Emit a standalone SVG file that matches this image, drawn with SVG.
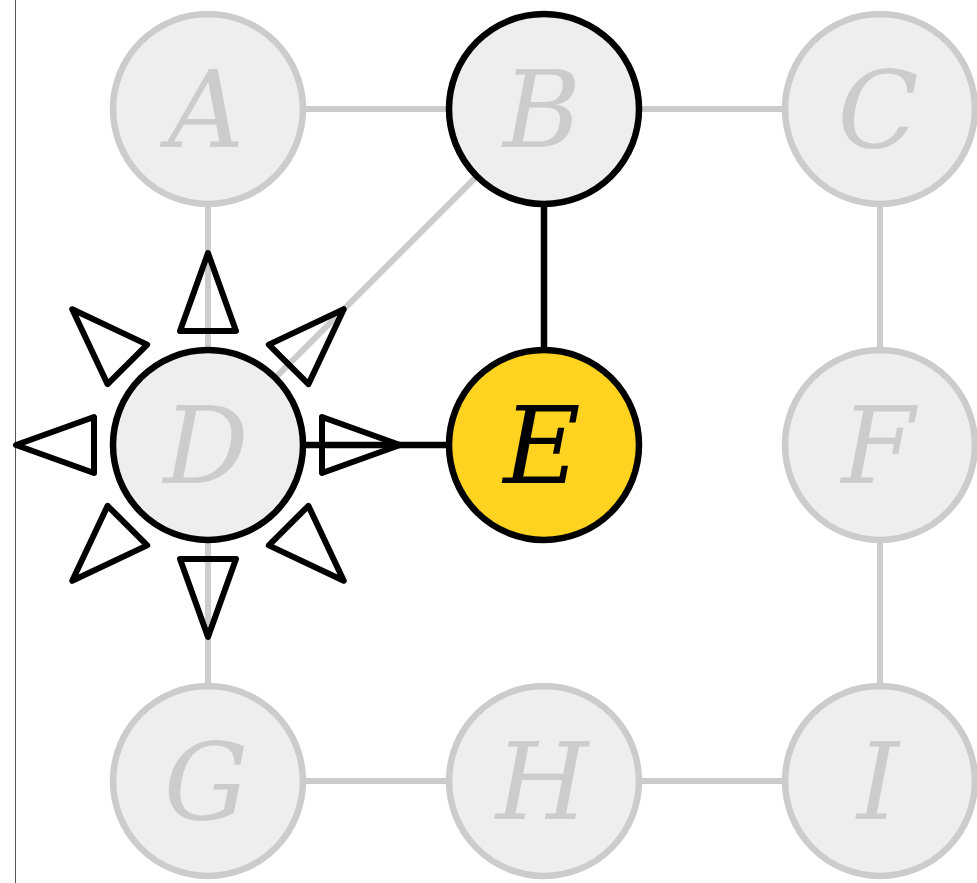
<svg xmlns="http://www.w3.org/2000/svg" width="977" height="883" viewBox="0 0 977 883">
<style>
.e{stroke:#cccccc;stroke-width:6;fill:none}
.ea{stroke:#000;stroke-width:6.5;fill:none}
.n circle{fill:#eeeeee;stroke:#cccccc;stroke-width:6.5}
.n text{fill:#cccccc;font-family:"DejaVu Serif",serif;font-style:italic;font-size:106px;text-anchor:middle}
.n.act circle{stroke:#000}
#E circle{fill:#ffd320;stroke:#000}
#E text{fill:#000}
.tri{fill:none;stroke:#000;stroke-width:6;stroke-linejoin:round}
</style>
<defs>
<polygon id="t" points="114,-28 192,0 114,28"/>
</defs>
<rect width="977" height="883" fill="#fff"/>
<line x1="15.5" y1="0" x2="15.5" y2="883" stroke="#555" stroke-width="1"/>
<g id="edges">
<line class="e" x1="208" y1="109" x2="544" y2="109"/>
<line class="e" x1="544" y1="109" x2="880" y2="109"/>
<line class="e" x1="208" y1="109" x2="208" y2="445"/>
<line class="e" x1="880" y1="109" x2="880" y2="445"/>
<line class="e" x1="208" y1="445" x2="208" y2="781"/>
<line class="e" x1="880" y1="445" x2="880" y2="781"/>
<line class="e" x1="208" y1="781" x2="544" y2="781"/>
<line class="e" x1="544" y1="781" x2="880" y2="781"/>
<line class="e" x1="544" y1="109" x2="208" y2="445"/>
<line class="ea" x1="544" y1="109" x2="544" y2="445"/>
<line class="ea" x1="208" y1="445" x2="544" y2="445"/>
</g>
<g id="A" class="n"><circle cx="208" cy="109" r="95"/><text x="206" y="147">A</text></g>
<g id="B" class="n act"><circle cx="544" cy="109" r="95"/><text x="542" y="147">B</text></g>
<g id="C" class="n"><circle cx="880" cy="109" r="95"/><text x="878" y="147">C</text></g>
<g id="D" class="n act"><circle cx="208" cy="445" r="95"/><text x="206" y="483">D</text></g>
<g id="E" class="n"><circle cx="544" cy="445" r="95"/><text x="542" y="483">E</text></g>
<g id="F" class="n"><circle cx="880" cy="445" r="95"/><text x="878" y="483">F</text></g>
<g id="G" class="n"><circle cx="208" cy="781" r="95"/><text x="206" y="819">G</text></g>
<g id="H" class="n"><circle cx="544" cy="781" r="95"/><text x="542" y="819">H</text></g>
<g id="I" class="n"><circle cx="880" cy="781" r="95"/><text x="878" y="819">I</text></g>
<g id="D-burst" class="tri" transform="translate(208,445)">
<use href="#t"/>
<use href="#t" transform="rotate(45)"/>
<use href="#t" transform="rotate(90)"/>
<use href="#t" transform="rotate(135)"/>
<use href="#t" transform="rotate(180)"/>
<use href="#t" transform="rotate(225)"/>
<use href="#t" transform="rotate(270)"/>
<use href="#t" transform="rotate(315)"/>
</g>
</svg>
